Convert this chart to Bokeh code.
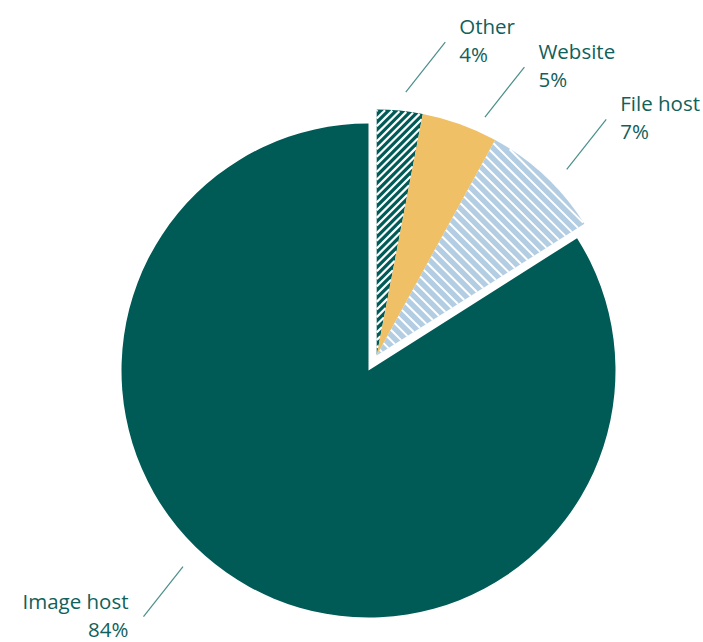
import numpy as np
from bokeh.plotting import figure
from bokeh.models import Range1d
from bokeh.embed import file_html
from bokeh.resources import INLINE
from bokeh.core.properties import value

# ---- data (clockwise from 12 o'clock) ----
categories = ["Other", "Website", "File host", "Image host"]
shares = [3, 5, 8, 84]            # slice sizes as drawn (%)
pct_labels = ["4%", "5%", "7%", "84%"]
exploded = [True, True, True, False]

# ---- styles / layout ----
W, H = 703, 642
CX, CY = 368, 272
R_MAIN, R_EXP, EXPLODE = 247, 246, 17
TEAL = "#005B57"
fills = [TEAL, "#F0C066", "#B3CDE3", TEAL]
hatch_dir = [(1, 1), None, (1, -1), None]     # "/" and "\" stripes
hatch_step = [5.4, None, 7.3, None]
hatch_w = [2.2, None, 2.0, None]
TEXT_C = "#10605B"
LEAD_C = "#4A8F8A"
FONT = "Open Sans"
FS = "20.5px"
lead_r = [265, 262, 266, 270]
lead_nudge = [0.9, 4.6, 2.4, 14.6]

p = figure(width=W, height=H, output_backend="svg", toolbar_location=None,
           x_range=Range1d(0, W), y_range=Range1d(0, H),
           x_axis_location=None, y_axis_location=None, min_border=0)
p.grid.visible = False
p.outline_line_color = None
p.background_fill_color = "white"
p.border_fill_color = "white"


def sector_hatch(x0, y0, r, a0, a1, direction, step):
    """White stripe segments clipped to the sector (a0 -> a1 anticlockwise)."""
    d = np.array(direction, float)
    d /= np.hypot(*d)
    n = np.array([-d[1], d[0]])
    ua = np.array([np.cos(a0), np.sin(a0)])
    ub = np.array([np.cos(a1), np.sin(a1)])
    cross = lambda u, v: u[0] * v[1] - u[1] * v[0]
    xs0, ys0, xs1, ys1 = [], [], [], []
    for s in np.arange(-r + step / 2, r, step):
        h = np.sqrt(max(r * r - s * s, 0))
        lo, hi = -h, h
        base = s * n
        # cross(ua, q) >= 0 and cross(q, ub) >= 0 with q = base + t d
        for c0, c1 in ((cross(ua, base), cross(ua, d)), (cross(base, ub), cross(d, ub))):
            if abs(c1) < 1e-12:
                if c0 < 0:
                    lo, hi = 1, 0
                continue
            t = -c0 / c1
            if c1 > 0:
                lo = max(lo, t)
            else:
                hi = min(hi, t)
        if hi > lo:
            q0, q1 = base + lo * d, base + hi * d
            xs0.append(x0 + q0[0]); ys0.append(y0 + q0[1])
            xs1.append(x0 + q1[0]); ys1.append(y0 + q1[1])
    return xs0, ys0, xs1, ys1


fr = np.array(shares, dtype=float) / sum(shares)
c1 = np.cumsum(fr)
c0 = c1 - fr
grp = fr[np.array(exploded)].sum()
ga = np.deg2rad(90 - 360 * grp / 2)
ex_x, ex_y = CX + EXPLODE * np.cos(ga), CY + EXPLODE * np.sin(ga)

for i, cat in enumerate(categories):
    if exploded[i]:
        x0, y0, r = ex_x, ex_y, R_EXP
    else:
        x0, y0, r = CX, CY, R_MAIN
    a_start = np.deg2rad(90 - 360 * c1[i])
    a_end = np.deg2rad(90 - 360 * c0[i])
    p.wedge(x=x0, y=y0, radius=r, start_angle=a_start, end_angle=a_end,
            fill_color=fills[i], line_color=None)
    if hatch_dir[i]:
        sx0, sy0, sx1, sy1 = sector_hatch(x0, y0, r - 0.5, a_start, a_end,
                                          hatch_dir[i], hatch_step[i])
        p.segment(x0=sx0, y0=sy0, x1=sx1, y1=sy1, line_color="white",
                  line_width=hatch_w[i], line_cap="butt")

    # leader line + label
    mid = 360 * (c0[i] + c1[i]) / 2 + lead_nudge[i]
    a = np.deg2rad(mid)
    sx, sy = x0 + lead_r[i] * np.sin(a), y0 + lead_r[i] * np.cos(a)
    right = np.sin(a) >= 0
    if right:
        ex, ey = sx + 39.5, sy + 50
        tx, align = ex + 14, "left"
    else:
        ex, ey = sx - 39.5, sy - 50
        tx, align = ex - 15, "right"
    ty = ey + 16
    p.segment(x0=[sx], y0=[sy], x1=[ex], y1=[ey], line_color=LEAD_C, line_width=1.2)
    p.text(x=[tx], y=[ty], text=[cat], text_font=value(FONT), text_font_size=FS,
           text_color=TEXT_C, text_align=align, text_baseline="alphabetic")
    p.text(x=[tx], y=[ty - 28], text=[pct_labels[i]], text_font=value(FONT),
           text_font_size=FS, text_color=TEXT_C, text_align=align,
           text_baseline="alphabetic")

open("out.html", "w").write(file_html(p, INLINE))
